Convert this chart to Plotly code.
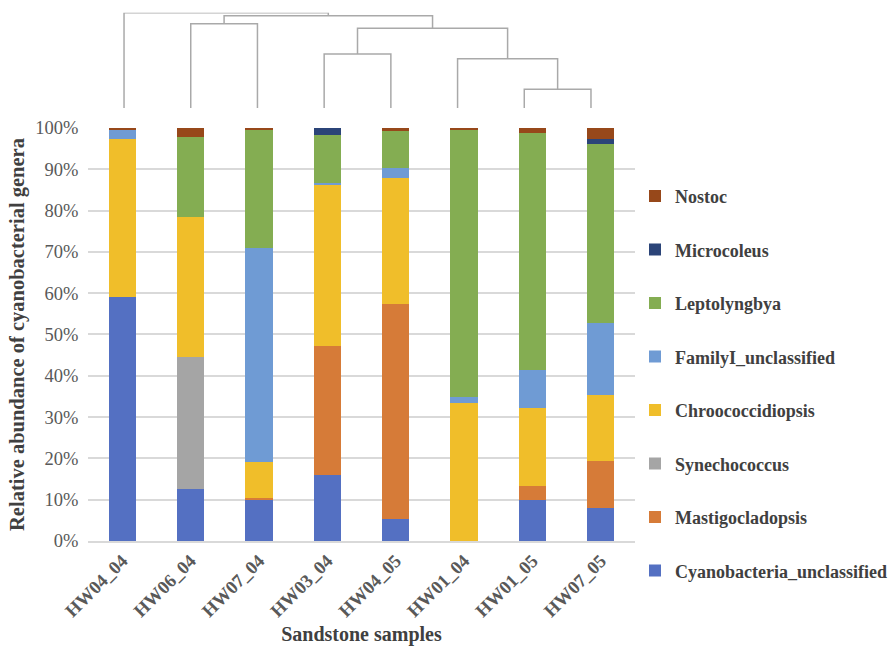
import plotly.graph_objects as go

# Samples, in dendrogram leaf order
samples = ["HW04_04", "HW06_04", "HW07_04", "HW03_04", "HW04_05", "HW01_04", "HW01_05", "HW07_05"]

# Relative abundance (%) of each genus per sample, stacked bottom to top
genera = ["Cyanobacteria_unclassified", "Mastigocladopsis", "Synechococcus", "Chroococcidiopsis",
          "FamilyI_unclassified", "Leptolyngbya", "Microcoleus", "Nostoc"]
cyanobacteria_unclassified = [59.0, 12.6, 10.1, 16.1, 5.3, 0.0, 9.9, 8.1]
mastigocladopsis = [0.0, 0.0, 0.3, 31.1, 52.2, 0.0, 3.5, 11.3]
synechococcus = [0.0, 31.9, 0.0, 0.0, 0.0, 0.0, 0.0, 0.0]
chroococcidiopsis = [38.3, 33.9, 8.7, 39.0, 30.3, 33.5, 18.9, 16.0]
family1_unclassified = [2.3, 0.0, 51.9, 0.4, 2.6, 1.4, 9.1, 17.4]
leptolyngbya = [0.0, 19.3, 28.6, 11.6, 8.8, 64.7, 57.4, 43.3]
microcoleus = [0.0, 0.0, 0.0, 1.8, 0.0, 0.0, 0.0, 1.2]
nostoc = [0.4, 2.3, 0.4, 0.0, 0.8, 0.4, 1.2, 2.7]

series = [cyanobacteria_unclassified, mastigocladopsis, synechococcus, chroococcidiopsis,
          family1_unclassified, leptolyngbya, microcoleus, nostoc]
colors = ["#5470C2", "#D67B38", "#A5A5A5", "#F0BE2A", "#6F9BD4", "#84AD52", "#2B4478", "#97481A"]

y_ticks = [0, 10, 20, 30, 40, 50, 60, 70, 80, 90, 100]

# Hierarchical clustering: each merge joins two nodes (leaf index or "m<k>") at a height
merges = [
    ("m1", 6, 7, 0.196),
    ("m2", 5, "m1", 0.517),
    ("m3", 3, 4, 0.567),
    ("m4", "m3", "m2", 0.836),
    ("m5", 1, 2, 0.885),
    ("m6", "m5", "m4", 0.969),
    ("m7", 0, "m6", 1.0),
]

SERIF = "Liberation Serif"
fig = go.Figure()

n = len(genera)
for i, (name, vals, col) in enumerate(zip(genera, series, colors)):
    fig.add_trace(go.Bar(
        x=samples, y=vals, name=f"<b>{name}</b>", marker=dict(color=col, line=dict(width=0)),
        legendgroup=name, legendrank=n - i,
    ))

# Dendrogram drawn as U-shaped links on its own axes above the bars
node_pos = {i: (float(i), 0.0) for i in range(len(samples))}
dx, dy = [], []
for node, a, b, h in merges:
    xa, ha = node_pos[a]
    xb, hb = node_pos[b]
    dx += [xa, xa, xb, xb, None]
    dy += [ha, h, h, hb, None]
    node_pos[node] = ((xa + xb) / 2, h)
fig.add_trace(go.Scatter(
    x=dx, y=dy, mode="lines", xaxis="x2", yaxis="y2",
    line=dict(color="#A9A9A9", width=1.5), showlegend=False, hoverinfo="skip",
))

fig.update_layout(
    template="none",
    width=896, height=648,
    margin=dict(l=88, r=261, t=10, b=107, autoexpand=False),
    paper_bgcolor="white", plot_bgcolor="white",
    barmode="stack", bargap=0.6,
    font=dict(family=SERIF, size=18, color="#595959"),
    showlegend=True,
    legend=dict(
        x=1.0, xanchor="left", y=0.684, yanchor="top",
        traceorder="grouped", tracegroupgap=27.1,
        font=dict(family=SERIF, size=18, color="#404040"),
        itemwidth=30,
    ),
    xaxis=dict(
        domain=[0, 1], tickangle=-45, showgrid=False, automargin=False,
        showline=True, linecolor="#D9D9D9", linewidth=1.5, ticks="",
        tickvals=samples, ticktext=[f"<b>{s}</b>" for s in samples],
        tickfont=dict(family=SERIF, size=18.5, color="#595959"),
        title=dict(text="<b>Sandstone samples</b>", standoff=7,
                   font=dict(family=SERIF, size=20, color="#404040")),
    ),
    yaxis=dict(
        domain=[0, 0.7778], range=[0, 100], tickvals=y_ticks, automargin=False,
        ticktext=[f"{v}%" for v in y_ticks],
        showgrid=True, gridcolor="#D9D9D9", gridwidth=1.5, zeroline=False, showline=False,
        tickfont=dict(family=SERIF, size=18.5, color="#595959"),
        ticklen=5, ticks="outside", tickcolor="white",
        title=dict(text="<b>Relative abundance of cyanobacterial genera</b>", standoff=4,
                   font=dict(family=SERIF, size=20.5, color="#404040")),
    ),
    xaxis2=dict(domain=[0.0049, 0.9805], range=[-0.5, 7.5], visible=False, anchor="y2"),
    yaxis2=dict(domain=[0.8154, 0.9949], range=[0, 1], visible=False, anchor="x2"),
)

fig.write_html("out.html")
